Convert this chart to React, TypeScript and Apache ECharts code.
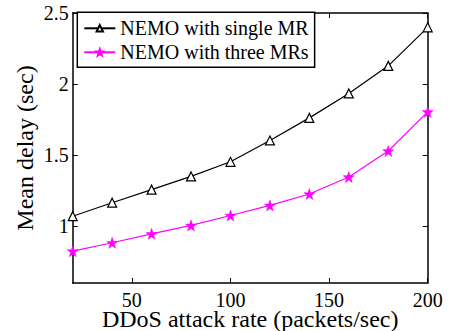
import React, { useEffect, useRef } from "react";
import * as echarts from "echarts";

const rates = [20, 40, 60, 80, 100, 120, 140, 160, 180, 200];
const singleMR = [1.07, 1.165, 1.257, 1.35, 1.453, 1.603, 1.762, 1.934, 2.128, 2.399];
const threeMRs = [0.824, 0.883, 0.946, 1.005, 1.075, 1.146, 1.226, 1.346, 1.529, 1.804];
const xTicks = [50, 100, 150, 200];
const yTicks = [1, 1.5, 2, 2.5];
const seriesNames = ["NEMO with single MR", "NEMO with three MRs"];

const FONT = "Liberation Serif";
const STAR =
  "path://M100 0 L123.5 67.6 L195.1 69.1 L138 112.4 L158.8 180.9 L100 140 L41.2 180.9 L62 112.4 L4.9 69.1 L76.5 67.6 Z";

export default function App() {
  const ref = useRef<HTMLDivElement>(null);
  useEffect(() => {
    const chart = echarts.init(ref.current!, null, { renderer: "svg" });
    const axisLine = { show: true, lineStyle: { color: "#000", width: 1.5 } };
    const xBase = {
      type: "value" as const,
      min: 20,
      max: 200,
      axisLine,
      splitLine: { show: false },
    };
    const yBase = {
      type: "value" as const,
      min: 0.6,
      max: 2.5,
      axisLine,
      splitLine: { show: false },
    };
    chart.setOption({
      animation: false,
      backgroundColor: "#fff",
      textStyle: { fontFamily: FONT, color: "#000" },
      grid: {
        left: 72.7,
        right: 26.3,
        top: 13,
        bottom: 48,
        containLabel: false,
        outerBoundsMode: "none",
      },
      legend: {
        show: true,
        orient: "vertical",
        left: 77.3,
        top: 12.3,
        padding: [6, 6, 5, 6],
        itemGap: 4,
        itemWidth: 31,
        itemHeight: 8,
        backgroundColor: "#fff",
        borderColor: "#000",
        borderWidth: 1.5,
        borderRadius: 0,
        textStyle: { fontFamily: FONT, fontSize: 20, color: "#000", lineHeight: 20 },
        data: seriesNames,
      },
      xAxis: [
        {
          ...xBase,
          position: "bottom",
          name: "DDoS attack rate (packets/sec)",
          nameLocation: "middle",
          nameGap: 26,
          nameMoveOverlap: false,
          nameTextStyle: { fontFamily: FONT, fontSize: 24, color: "#000", lineHeight: 20 },
          axisTick: { show: true, inside: true, length: 5, customValues: xTicks, lineStyle: { color: "#000" } },
          axisLabel: {
            show: true,
            customValues: xTicks,
            margin: 9,
            fontFamily: FONT,
            fontSize: 20,
            lineHeight: 16,
            color: "#000",
          },
        },
        {
          ...xBase,
          position: "top",
          axisTick: { show: true, inside: true, length: 5, customValues: xTicks, lineStyle: { color: "#000" } },
          axisLabel: { show: false },
        },
      ],
      yAxis: [
        {
          ...yBase,
          position: "left",
          name: "Mean delay (sec)",
          nameLocation: "middle",
          nameGap: 36,
          nameMoveOverlap: false,
          nameTextStyle: { fontFamily: FONT, fontSize: 24, color: "#000", lineHeight: 24 },
          axisTick: { show: true, inside: true, length: 5, customValues: yTicks, lineStyle: { color: "#000" } },
          axisLabel: { show: true, customValues: yTicks, margin: 4, fontFamily: FONT, fontSize: 20, color: "#000" },
        },
        {
          ...yBase,
          position: "right",
          axisTick: { show: true, inside: true, length: 5, customValues: yTicks, lineStyle: { color: "#000" } },
          axisLabel: { show: false },
        },
      ],
      series: [
        {
          name: seriesNames[0],
          type: "line",
          data: rates.map((r, i) => [r, singleMR[i]]),
          symbol: "triangle",
          symbolSize: 9,
          showAllSymbol: true,
          lineStyle: { color: "#000", width: 1.2 },
          itemStyle: { color: "#fff", borderColor: "#000", borderWidth: 1.2 },
          z: 3,
        },
        {
          name: seriesNames[1],
          type: "line",
          data: rates.map((r, i) => [r, threeMRs[i]]),
          symbol: STAR,
          symbolSize: 11,
          showAllSymbol: true,
          lineStyle: { color: "#ff00ff", width: 1.2 },
          itemStyle: { color: "#ff00ff", borderColor: "#ff00ff", borderWidth: 0.5 },
          z: 3,
        },
      ],
    });
    return () => chart.dispose();
  }, []);
  return <div ref={ref} style={{ width: 454, height: 331, position: "absolute", left: 0, top: 0 }} />;
}
